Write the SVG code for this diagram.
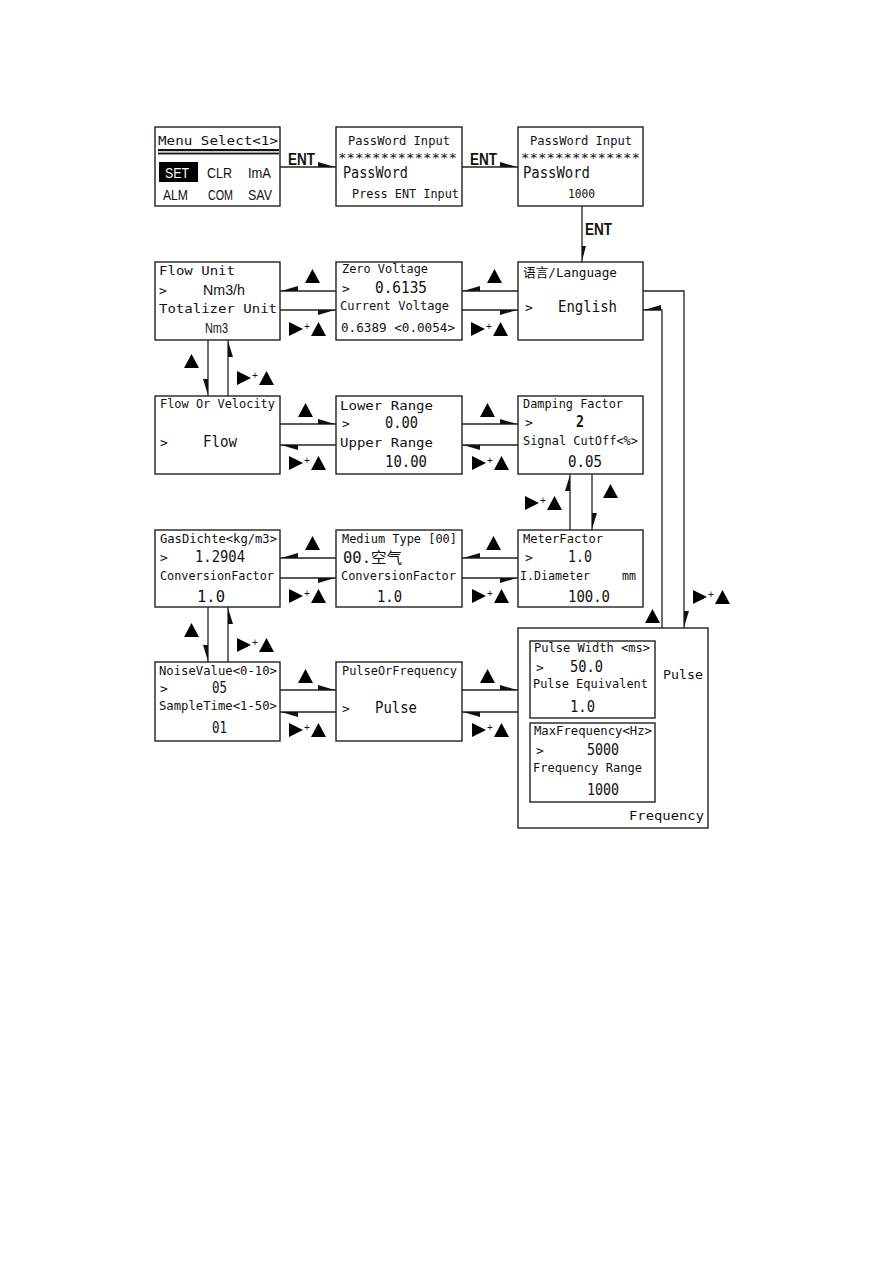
<svg xmlns="http://www.w3.org/2000/svg" xmlns:xlink="http://www.w3.org/1999/xlink" width="893" height="1263" viewBox="0 0 893 1263">
<style>
.box{fill:#fff;stroke:#222;stroke-width:1.4}
.ln{fill:none;stroke:#222;stroke-width:1.3}
.hd{fill:#111}
text{font-family:"DejaVu Sans Mono","Noto Sans CJK SC",monospace;fill:#111;font-size:13px}
.b{font-size:15px}
.s{font-family:"Liberation Sans","Noto Sans CJK SC",sans-serif;font-size:15px}
.ent{font-family:"Liberation Sans",sans-serif;font-size:16px;font-weight:bold}
.plus{font-family:"Liberation Sans",sans-serif;font-size:10px}
</style>
<defs>
<polygon id="up" points="0,0 7.5,-14 15,0" fill="#000"/>
<polygon id="rt" points="0,-14 14,-7 0,0" fill="#000"/>
<g id="key"><use xlink:href="#rt"/><text class="plus" x="15" y="-6">+</text><use xlink:href="#up" x="22"/></g>
</defs>
<rect width="893" height="1263" fill="#fff"/>

<g id="connectors">
<!-- row 1 -->
<line class="ln" x1="280" y1="167" x2="336" y2="167"/>
<polygon class="hd" points="318,162 318,167 335,167"/>
<line class="ln" x1="462" y1="167" x2="518" y2="167"/>
<polygon class="hd" points="500,162 500,167 517,167"/>
<line class="ln" x1="582" y1="206" x2="582" y2="262"/>
<polygon class="hd" points="582,246 586,246 582,261"/>
<text class="ent" x="288" y="165" textLength="27" lengthAdjust="spacingAndGlyphs">ENT</text>
<text class="ent" x="470" y="165" textLength="27" lengthAdjust="spacingAndGlyphs">ENT</text>
<text class="ent" x="585" y="235" textLength="27" lengthAdjust="spacingAndGlyphs">ENT</text>
<!-- row 2 -->
<line class="ln" x1="280" y1="291" x2="336" y2="291"/>
<polygon class="hd" points="281,291 298,286 298,291"/>
<line class="ln" x1="280" y1="310" x2="336" y2="310"/>
<polygon class="hd" points="318,310 318,315 335,310"/>
<line class="ln" x1="462" y1="291" x2="518" y2="291"/>
<polygon class="hd" points="463,291 480,286 480,291"/>
<line class="ln" x1="462" y1="310" x2="518" y2="310"/>
<polygon class="hd" points="500,310 500,315 517,310"/>
<use xlink:href="#up" x="305" y="283"/>
<use xlink:href="#up" x="487" y="283"/>
<use xlink:href="#key" x="289" y="336"/>
<use xlink:href="#key" x="471" y="336"/>
<!-- language right loop -->
<polyline class="ln" points="643,291 684,291 684,628"/>
<polygon class="hd" points="684,611 689,611 684,627"/>
<polyline class="ln" points="662,628 662,310 643,310"/>
<polygon class="hd" points="644,310 661,305 661,310"/>
<use xlink:href="#up" x="645" y="623"/>
<use xlink:href="#key" x="693" y="604"/>
<!-- left column 1 -->
<line class="ln" x1="208" y1="340" x2="208" y2="396"/>
<polygon class="hd" points="203,379 208,379 208,395"/>
<line class="ln" x1="228" y1="340" x2="228" y2="396"/>
<polygon class="hd" points="228,341 228,357 233,357"/>
<use xlink:href="#up" x="184" y="368"/>
<use xlink:href="#key" x="237" y="385"/>
<!-- row 3 -->
<line class="ln" x1="280" y1="424" x2="336" y2="424"/>
<polygon class="hd" points="318,419 318,424 335,424"/>
<line class="ln" x1="280" y1="445" x2="336" y2="445"/>
<polygon class="hd" points="281,445 298,445 298,450"/>
<line class="ln" x1="462" y1="424" x2="518" y2="424"/>
<polygon class="hd" points="500,419 500,424 517,424"/>
<line class="ln" x1="462" y1="445" x2="518" y2="445"/>
<polygon class="hd" points="463,445 480,445 480,450"/>
<use xlink:href="#up" x="298" y="417"/>
<use xlink:href="#up" x="480" y="417"/>
<use xlink:href="#key" x="289" y="470"/>
<use xlink:href="#key" x="472" y="470"/>
<!-- damping column -->
<line class="ln" x1="570" y1="474" x2="570" y2="530"/>
<polygon class="hd" points="570,475 570,491 565,491"/>
<line class="ln" x1="592" y1="474" x2="592" y2="530"/>
<polygon class="hd" points="592,513 597,513 592,529"/>
<use xlink:href="#up" x="603" y="498"/>
<use xlink:href="#key" x="525" y="510"/>
<!-- row 4 -->
<line class="ln" x1="280" y1="558" x2="336" y2="558"/>
<polygon class="hd" points="281,558 298,553 298,558"/>
<line class="ln" x1="280" y1="578" x2="336" y2="578"/>
<polygon class="hd" points="318,578 318,583 335,578"/>
<line class="ln" x1="462" y1="558" x2="518" y2="558"/>
<polygon class="hd" points="463,558 480,553 480,558"/>
<line class="ln" x1="462" y1="578" x2="518" y2="578"/>
<polygon class="hd" points="500,578 500,583 517,578"/>
<use xlink:href="#up" x="305" y="550"/>
<use xlink:href="#up" x="486" y="550"/>
<use xlink:href="#key" x="289" y="603"/>
<use xlink:href="#key" x="472" y="603"/>
<!-- left column 2 -->
<line class="ln" x1="208" y1="607" x2="208" y2="662"/>
<polygon class="hd" points="203,645 208,645 208,661"/>
<line class="ln" x1="228" y1="607" x2="228" y2="662"/>
<polygon class="hd" points="228,608 228,624 233,624"/>
<use xlink:href="#up" x="184" y="637"/>
<use xlink:href="#key" x="237" y="652"/>
<!-- row 5 -->
<line class="ln" x1="280" y1="690" x2="336" y2="690"/>
<polygon class="hd" points="318,685 318,690 335,690"/>
<line class="ln" x1="280" y1="712" x2="336" y2="712"/>
<polygon class="hd" points="281,712 298,712 298,717"/>
<line class="ln" x1="462" y1="690" x2="518" y2="690"/>
<polygon class="hd" points="500,685 500,690 517,690"/>
<line class="ln" x1="462" y1="712" x2="518" y2="712"/>
<polygon class="hd" points="463,712 480,712 480,717"/>
<use xlink:href="#up" x="298" y="683"/>
<use xlink:href="#up" x="480" y="683"/>
<use xlink:href="#key" x="289" y="737"/>
<use xlink:href="#key" x="472" y="737"/>
</g>

<g id="menu-select">
<rect class="box" x="155" y="127" width="125" height="79"/>
<text x="158" y="145" font-size="14" textLength="120" lengthAdjust="spacingAndGlyphs">Menu Select&lt;1&gt;</text>
<rect x="158" y="149" width="121" height="2.2" fill="#111"/>
<rect x="158" y="152.6" width="121" height="1.8" fill="#111"/>
<rect x="159" y="162" width="39" height="20" fill="#000"/>
<text class="s" x="165" y="178" fill="#fff" style="fill:#fff" textLength="24" lengthAdjust="spacingAndGlyphs">SET</text>
<text class="s" x="207" y="178" textLength="25" lengthAdjust="spacingAndGlyphs">CLR</text>
<text class="s" x="248" y="178" textLength="23" lengthAdjust="spacingAndGlyphs">ImA</text>
<text class="s" x="163" y="200" textLength="25" lengthAdjust="spacingAndGlyphs">ALM</text>
<text class="s" x="208" y="200" textLength="25" lengthAdjust="spacingAndGlyphs">COM</text>
<text class="s" x="248" y="200" textLength="24" lengthAdjust="spacingAndGlyphs">SAV</text>
</g>

<g id="password-input-1">
<rect class="box" x="336" y="127" width="126" height="79"/>
<text x="348" y="145" textLength="102" lengthAdjust="spacingAndGlyphs">PassWord Input</text>
<text x="338" y="162" font-size="14" textLength="119" lengthAdjust="spacingAndGlyphs">**************</text>
<text class="b" x="343" y="178" textLength="65" lengthAdjust="spacingAndGlyphs">PassWord</text>
<text x="352" y="198" textLength="107" lengthAdjust="spacingAndGlyphs">Press ENT Input</text>
</g>

<g id="password-input-2">
<rect class="box" x="518" y="127" width="125" height="79"/>
<text x="530" y="145" textLength="102" lengthAdjust="spacingAndGlyphs">PassWord Input</text>
<text x="521" y="162" font-size="14" textLength="119" lengthAdjust="spacingAndGlyphs">**************</text>
<text class="b" x="523" y="178" textLength="67" lengthAdjust="spacingAndGlyphs">PassWord</text>
<text x="568" y="198" textLength="27" lengthAdjust="spacingAndGlyphs">1000</text>
</g>

<g id="flow-unit">
<rect class="box" x="155" y="262" width="125" height="78"/>
<text x="159" y="275" font-size="14" textLength="76" lengthAdjust="spacingAndGlyphs">Flow Unit</text>
<text x="159" y="295" font-size="14">&gt;</text>
<text class="s" x="203" y="295" textLength="42" lengthAdjust="spacingAndGlyphs">Nm3/h</text>
<text x="159" y="313" font-size="14" textLength="118" lengthAdjust="spacingAndGlyphs">Totalizer Unit</text>
<text class="s" x="205" y="333" textLength="23" lengthAdjust="spacingAndGlyphs">Nm3</text>
</g>

<g id="zero-voltage">
<rect class="box" x="336" y="262" width="126" height="78"/>
<text x="342" y="273" textLength="86" lengthAdjust="spacingAndGlyphs">Zero Voltage</text>
<text x="342" y="293" font-size="14">&gt;</text>
<text class="b" x="375" y="293" textLength="52" lengthAdjust="spacingAndGlyphs">0.6135</text>
<text x="340" y="310" textLength="109" lengthAdjust="spacingAndGlyphs">Current Voltage</text>
<text x="341" y="332" textLength="114" lengthAdjust="spacingAndGlyphs">0.6389 &lt;0.0054&gt;</text>
</g>

<g id="language">
<rect class="box" x="518" y="262" width="125" height="78"/>
<text x="523" y="277" font-size="14" textLength="94" lengthAdjust="spacingAndGlyphs">语言/Language</text>
<text x="525" y="312" font-size="14">&gt;</text>
<text class="b" x="558" y="312" textLength="59" lengthAdjust="spacingAndGlyphs">English</text>
</g>

<g id="flow-or-velocity">
<rect class="box" x="155" y="396" width="125" height="78"/>
<text x="160" y="408" textLength="115" lengthAdjust="spacingAndGlyphs">Flow Or Velocity</text>
<text x="160" y="447" font-size="14">&gt;</text>
<text class="b" x="203" y="447" textLength="34" lengthAdjust="spacingAndGlyphs">Flow</text>
</g>

<g id="range">
<rect class="box" x="336" y="396" width="126" height="78"/>
<text x="340" y="410" font-size="14" textLength="93" lengthAdjust="spacingAndGlyphs">Lower Range</text>
<text x="342" y="428" font-size="14">&gt;</text>
<text class="b" x="385" y="428" textLength="33" lengthAdjust="spacingAndGlyphs">0.00</text>
<text x="340" y="447" font-size="14" textLength="93" lengthAdjust="spacingAndGlyphs">Upper Range</text>
<text class="b" x="385" y="467" textLength="42" lengthAdjust="spacingAndGlyphs">10.00</text>
</g>

<g id="damping-factor">
<rect class="box" x="518" y="396" width="125" height="78"/>
<text x="523" y="408" textLength="100" lengthAdjust="spacingAndGlyphs">Damping Factor</text>
<text x="525" y="427" font-size="14">&gt;</text>
<text class="b" x="576" y="427" font-weight="bold" textLength="8" lengthAdjust="spacingAndGlyphs">2</text>
<text x="523" y="445" textLength="115" lengthAdjust="spacingAndGlyphs">Signal CutOff&lt;%&gt;</text>
<text class="b" x="568" y="467" textLength="34" lengthAdjust="spacingAndGlyphs">0.05</text>
</g>

<g id="gas-dichte">
<rect class="box" x="155" y="530" width="125" height="77"/>
<text x="160" y="543" textLength="117" lengthAdjust="spacingAndGlyphs">GasDichte&lt;kg/m3&gt;</text>
<text x="160" y="562" font-size="14">&gt;</text>
<text class="b" x="195" y="562" textLength="50" lengthAdjust="spacingAndGlyphs">1.2904</text>
<text x="160" y="580" textLength="114" lengthAdjust="spacingAndGlyphs">ConversionFactor</text>
<text class="b" x="197" y="602" textLength="28" lengthAdjust="spacingAndGlyphs">1.0</text>
</g>

<g id="medium-type">
<rect class="box" x="336" y="530" width="126" height="77"/>
<text x="342" y="543" textLength="115" lengthAdjust="spacingAndGlyphs">Medium Type [00]</text>
<text class="b" x="343" y="563" textLength="59" lengthAdjust="spacingAndGlyphs">00.空气</text>
<text x="341" y="580" textLength="115" lengthAdjust="spacingAndGlyphs">ConversionFactor</text>
<text class="b" x="377" y="602" textLength="25" lengthAdjust="spacingAndGlyphs">1.0</text>
</g>

<g id="meter-factor">
<rect class="box" x="518" y="530" width="125" height="77"/>
<text x="523" y="543" textLength="80" lengthAdjust="spacingAndGlyphs">MeterFactor</text>
<text x="525" y="562" font-size="14">&gt;</text>
<text class="b" x="568" y="562" textLength="24" lengthAdjust="spacingAndGlyphs">1.0</text>
<text x="520" y="580" textLength="70" lengthAdjust="spacingAndGlyphs">I.Diameter</text>
<text x="622" y="580" font-size="12" textLength="14" lengthAdjust="spacingAndGlyphs">mm</text>
<text class="b" x="568" y="602" textLength="42" lengthAdjust="spacingAndGlyphs">100.0</text>
</g>

<g id="noise-value">
<rect class="box" x="155" y="662" width="125" height="79"/>
<text x="159" y="675" textLength="118" lengthAdjust="spacingAndGlyphs">NoiseValue&lt;0-10&gt;</text>
<text x="160" y="693" font-size="14">&gt;</text>
<text class="b" x="212" y="693" textLength="15" lengthAdjust="spacingAndGlyphs">05</text>
<text x="159" y="710" textLength="118" lengthAdjust="spacingAndGlyphs">SampleTime&lt;1-50&gt;</text>
<text class="b" x="212" y="733" textLength="15" lengthAdjust="spacingAndGlyphs">01</text>
</g>

<g id="pulse-or-frequency">
<rect class="box" x="336" y="662" width="126" height="79"/>
<text x="342" y="675" textLength="115" lengthAdjust="spacingAndGlyphs">PulseOrFrequency</text>
<text x="342" y="713" font-size="14">&gt;</text>
<text class="b" x="375" y="713" textLength="42" lengthAdjust="spacingAndGlyphs">Pulse</text>
</g>

<g id="pulse-frequency">
<rect class="box" x="518" y="628" width="190" height="200"/>
<text x="663" y="679" font-size="14" textLength="40" lengthAdjust="spacingAndGlyphs">Pulse</text>
<text x="629" y="820" font-size="14" textLength="75" lengthAdjust="spacingAndGlyphs">Frequency</text>
</g>

<g id="pulse-settings">
<rect class="box" x="530" y="641" width="125" height="77"/>
<text x="534" y="652" textLength="116" lengthAdjust="spacingAndGlyphs">Pulse Width &lt;ms&gt;</text>
<text x="536" y="672" font-size="14">&gt;</text>
<text class="b" x="570" y="672" textLength="33" lengthAdjust="spacingAndGlyphs">50.0</text>
<text x="533" y="688" textLength="115" lengthAdjust="spacingAndGlyphs">Pulse Equivalent</text>
<text class="b" x="570" y="712" textLength="25" lengthAdjust="spacingAndGlyphs">1.0</text>
</g>

<g id="frequency-settings">
<rect class="box" x="530" y="723" width="125" height="79"/>
<text x="534" y="735" textLength="118" lengthAdjust="spacingAndGlyphs">MaxFrequency&lt;Hz&gt;</text>
<text x="536" y="755" font-size="14">&gt;</text>
<text class="b" x="587" y="755" textLength="32" lengthAdjust="spacingAndGlyphs">5000</text>
<text x="533" y="772" textLength="109" lengthAdjust="spacingAndGlyphs">Frequency Range</text>
<text class="b" x="587" y="795" textLength="32" lengthAdjust="spacingAndGlyphs">1000</text>
</g>
</svg>
